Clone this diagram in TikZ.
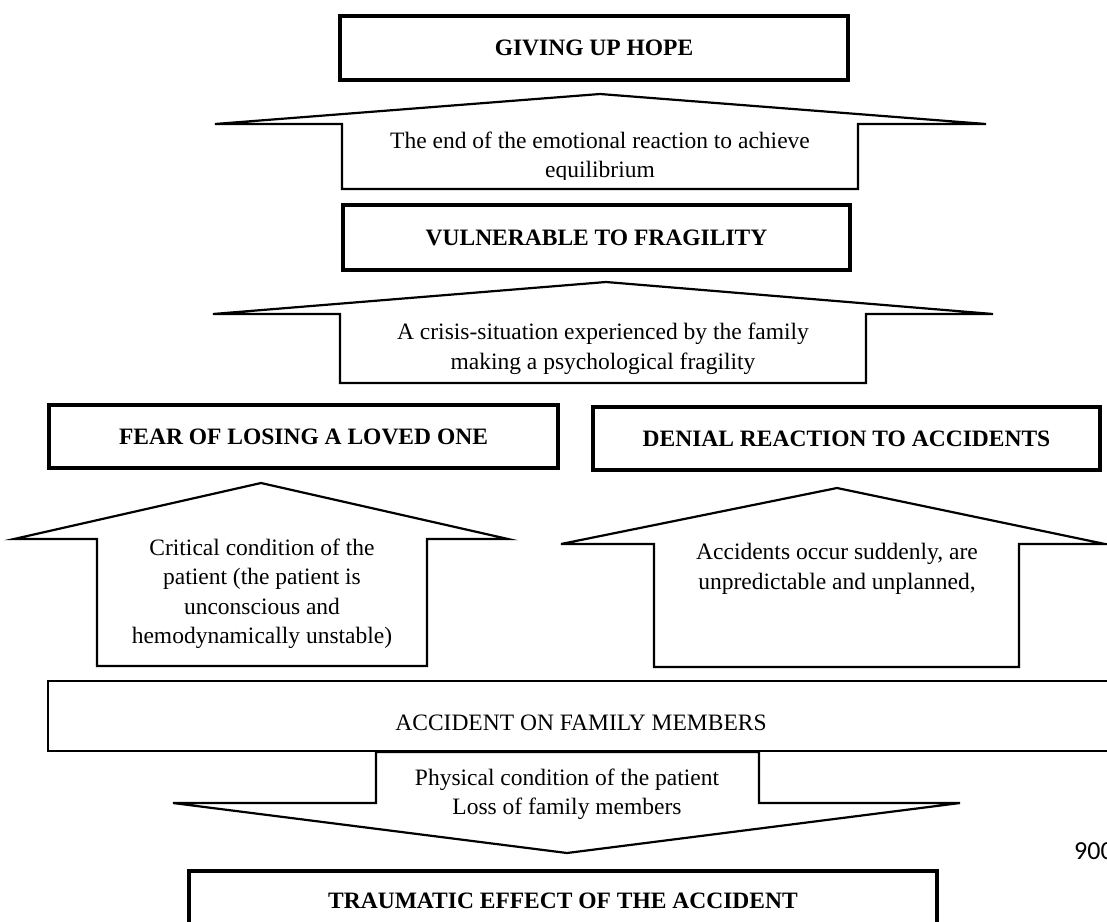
\documentclass[tikz,border=0pt]{standalone}
\usepackage{fontspec}
\setmainfont{Liberation Serif}
\newfontfamily\pagefont{Carlito}
\begin{document}
\begin{tikzpicture}[x=1pt,y=-1pt,
  titlebox/.style={draw=black,line width=3.2pt,fill=white,inner sep=0pt,
    font=\bfseries\fontsize{23.5}{29}\selectfont},
  blockarrow/.style={draw=black,line width=2.2pt,line join=miter,fill=white},
  arrowtext/.style={align=center,inner sep=0pt,font=\fontsize{23.5}{29.5}\selectfont},
  plaintext/.style={inner sep=0pt,font=\fontsize{23.5}{29}\selectfont}]
\useasboundingbox (0,0) rectangle (1107,921);
\fill[white] (0,0) rectangle (1107,921);

% top title
\node[titlebox,minimum width=508pt,minimum height=64pt] (hope) at (594,48) {GIVING UP HOPE};

% arrow 1
\draw[blockarrow] (342,189) -- (342,124) -- (215,124) -- (600,94) -- (986,124)
  -- (858,124) -- (858,189) -- cycle;
\begin{scope}
\clip (342,124) rectangle (858,179.5);
\node[arrowtext] (a1text) at (600,157) {The end of the emotional reaction to achieve\\equilibrium};
\end{scope}

% vulnerable
\node[titlebox,minimum width=507pt,minimum height=65pt] (vuln) at (596.5,237.5) {VULNERABLE TO FRAGILITY};

% arrow 2
\draw[blockarrow] (340,383) -- (340,314) -- (213,314) -- (606,282) -- (993,314)
  -- (866,314) -- (866,383) -- cycle;
\node[arrowtext] (a2text) at (603,349) {A crisis-situation experienced by the family\\making a psychological fragility};

% fear and denial
\node[titlebox,minimum width=509pt,minimum height=63pt] (fear) at (303.5,436.5) {FEAR OF LOSING A LOVED ONE};
\node[titlebox,minimum width=507pt,minimum height=63pt] (denial) at (846.5,438.5) {DENIAL REACTION TO ACCIDENTS};

% arrow 3 (left)
\draw[blockarrow] (97,666) -- (97,539) -- (14,539) -- (261,483) -- (508,539)
  -- (427,539) -- (427,666) -- cycle;
\node[arrowtext] (a3text) at (262,594) {Critical condition of the\\patient (the patient is\\unconscious and\\hemodynamically unstable)};

% arrow 4 (right)
\draw[blockarrow] (654,667) -- (654,544) -- (561,544) -- (837,488) -- (1105,544)
  -- (1019,544) -- (1019,667) -- cycle;
\node[arrowtext] (a4text) at (837,569) {Accidents occur suddenly, are\\unpredictable and unplanned,};

% accident box
\node[draw=black,line width=1.6pt,fill=white,inner sep=0pt,minimum width=1072pt,minimum height=70pt] (acc) at (584,716) {};
\node[plaintext] (acctext) at (581,723) {ACCIDENT ON FAMILY MEMBERS};

% down arrow
\draw[blockarrow] (376,752) -- (376,803) -- (173,803) -- (567,853) -- (960,803)
  -- (759,803) -- (759,752) -- cycle;
\node[arrowtext] (a5text) at (567,794) {Physical condition of the patient\\Loss of family members};

% page number
\node[anchor=west,inner sep=0pt,font=\pagefont\fontsize{26}{30}\selectfont] (pg) at (1074,851) {900};

% traumatic
\node[titlebox,minimum width=748pt,minimum height=60pt] (trauma) at (563,901) {TRAUMATIC EFFECT OF THE ACCIDENT};
\end{tikzpicture}
\end{document}
